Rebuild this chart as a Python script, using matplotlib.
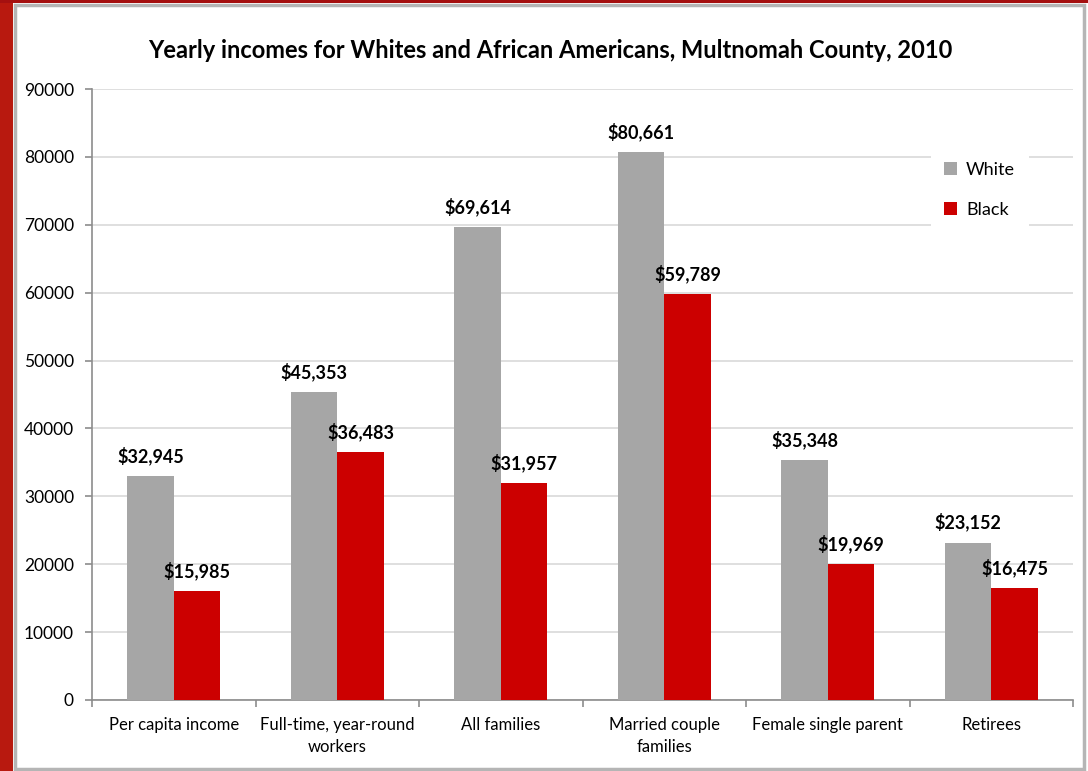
import matplotlib
matplotlib.use("Agg")
import matplotlib.pyplot as plt
from matplotlib.patches import Rectangle
import numpy as np

categories = ["Per capita income", "Full-time, year-round\nworkers", "All families",
              "Married couple\nfamilies", "Female single parent", "Retirees"]
white_income = [32945, 45353, 69614, 80661, 35348, 23152]
black_income = [15985, 36483, 31957, 59789, 19969, 16475]
series_names = ["White", "Black"]
yticks = [0, 10000, 20000, 30000, 40000, 50000, 60000, 70000, 80000, 90000]

plt.rcParams["font.family"] = ["Lato", "DejaVu Sans"]

W, H = 1088, 771
fig = plt.figure(figsize=(W / 100, H / 100), dpi=100)
fig.patch.set_facecolor("white")

# page frame: red margin on the left and top, grey border round the chart
fig.patches.append(Rectangle((0, 0), 13 / W, 1, transform=fig.transFigure,
                             facecolor="#b8190f", edgecolor="none", zorder=0))
fig.patches.append(Rectangle((0, 1 - 3 / H), 1, 3 / H, transform=fig.transFigure,
                             facecolor="#a51010", edgecolor="none", zorder=0))
fig.patches.append(Rectangle((14.5 / W, 2.5 / H), (1084 - 14.5) / W, (766 - 2.5) / H,
                             transform=fig.transFigure, facecolor="none",
                             edgecolor="#b5b5b5", linewidth=2.5, zorder=1))

ax = fig.add_axes([92 / W, 1 - 700 / H, (1073 - 92) / W, (700 - 89) / H])
x = np.arange(len(categories))
bw = 0.285
bars_w = ax.bar(x - bw / 2, white_income, bw, color="#a6a6a6", label=series_names[0], zorder=3)
bars_b = ax.bar(x + bw / 2, black_income, bw, color="#cc0000", label=series_names[1], zorder=3)

for bars, vals in ((bars_w, white_income), (bars_b, black_income)):
    for b, v in zip(bars, vals):
        ax.annotate(f"${v:,}", (b.get_x() + b.get_width() / 2, v),
                    xytext=(0, 8), textcoords="offset points",
                    ha="center", va="bottom", fontsize=13, fontweight="bold")

ax.set_xlim(-0.5, len(categories) - 0.5)
ax.set_ylim(0, 90000)
ax.set_yticks(yticks)
ax.set_yticklabels([str(t) for t in yticks], fontsize=12.5)
ax.yaxis.grid(True, color="#d9d9d9", linewidth=1.2, zorder=0)
ax.set_axisbelow(True)

ax.set_xticks(x)
ax.set_xticklabels(categories, fontsize=12, linespacing=1.45)
ax.tick_params(axis="x", length=0, pad=12)
ax.set_xticks(np.arange(len(categories) + 1) - 0.5, minor=True)
ax.tick_params(axis="x", which="minor", length=5, color="#8c8c8c", width=1.2)
ax.tick_params(axis="y", length=5, color="#8c8c8c", width=1.2, pad=8)

for s in ("top", "right"):
    ax.spines[s].set_visible(False)
for s in ("left", "bottom"):
    ax.spines[s].set_color("#8c8c8c")
    ax.spines[s].set_linewidth(1.2)

leg = ax.legend(loc="center", bbox_to_anchor=(0.905, 0.835), frameon=True,
                fontsize=13, handlelength=0.7, handleheight=0.7,
                labelspacing=1.3, borderpad=0.75, handletextpad=0.5,
                borderaxespad=0)
leg.get_frame().set_edgecolor("none")
leg.get_frame().set_facecolor("white")
leg.get_frame().set_alpha(1)
leg.get_frame().set_boxstyle("square", pad=0)

fig.text(550 / W, 1 - 50 / H, "Yearly incomes for Whites and African Americans, Multnomah County, 2010",
         ha="center", va="center", fontsize=17, fontweight="bold")

fig.savefig("out.png", dpi=100)
